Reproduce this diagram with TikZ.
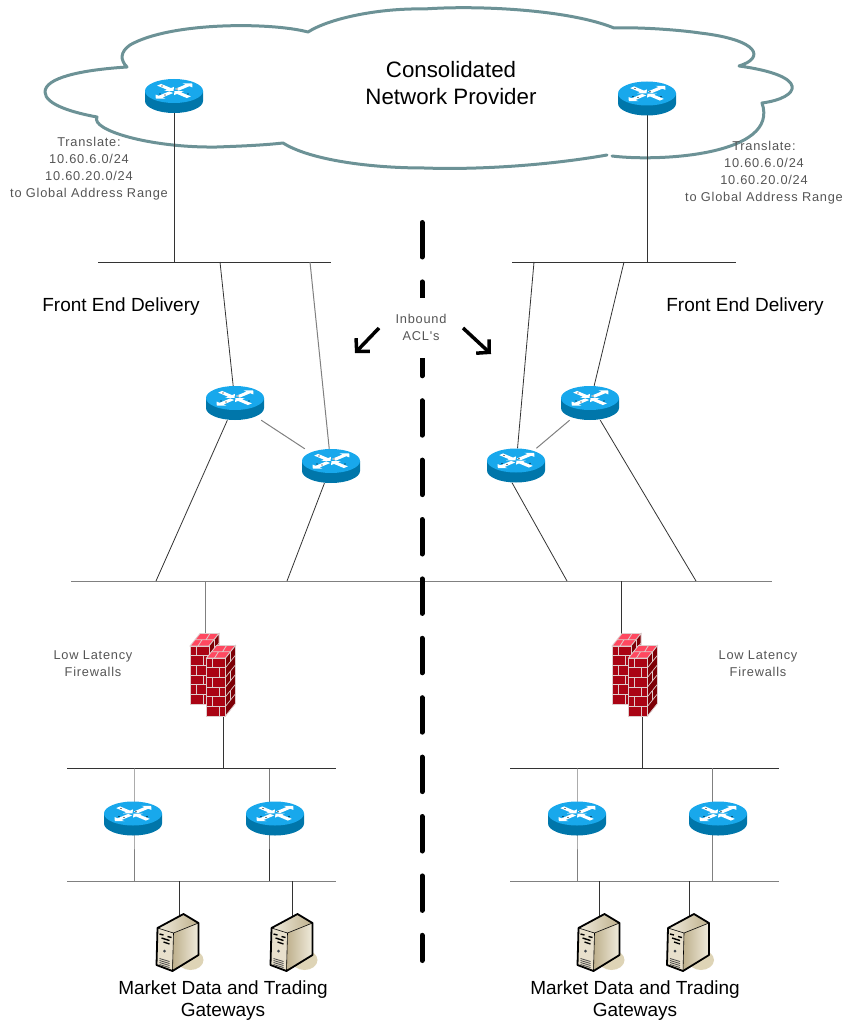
\documentclass[tikz,border=0pt]{standalone}
\usepackage{fontspec}
\setmainfont{Liberation Sans}
\newfontfamily\notefont[LetterSpace=6]{Liberation Sans}
\usetikzlibrary{arrows.meta,backgrounds}

% Colours
\definecolor{cloudline}{RGB}{108,146,150}
\definecolor{routertop}{RGB}{24,168,236}
\definecolor{routerside}{RGB}{0,118,170}
\definecolor{brickfront}{RGB}{170,4,20}
\definecolor{bricktop}{RGB}{255,72,96}
\definecolor{brickside}{RGB}{125,0,6}
\definecolor{mortar}{RGB}{222,205,205}
\definecolor{casefront}{RGB}{232,224,204}
\definecolor{casedark}{RGB}{190,176,140}
\definecolor{caselight}{RGB}{240,235,220}
\definecolor{caseshadow}{RGB}{222,212,182}
\definecolor{notegray}{RGB}{85,85,85}

\tikzset{
  wire/.style={black!80,line width=0.8pt},
  wirelight/.style={black!50,line width=1pt},
  router/.style={inner sep=0pt,minimum width=58pt,minimum height=34pt},
  firewall/.style={inner sep=0pt,minimum width=46pt,minimum height=82pt},
  server/.style={inner sep=0pt,minimum width=42pt,minimum height=56pt},
  note/.style={text=notegray,align=center,font=\notefont\fontsize{12.8}{17}\selectfont},
  heading/.style={align=center,font=\fontsize{19}{22.5}\selectfont},
  routericon/.pic={
    \fill[routerside] (-29,-5) -- (-29,5) arc[start angle=180,end angle=0,x radius=29,y radius=12] -- (29,-5) -- cycle;
    \fill[routertop] (0,-5) ellipse[x radius=29,y radius=12];
    % Four white arrows on the lid
    \foreach \a/\s/\e in {45/4/19,135/21/7,225/4/19,315/21/7}{
      \begin{scope}[shift={(0,-5)},yscale=0.42,rotate=\a]
        \fill[white] (\s,-2.8) -- (\e,-2.8) -- (\e,-7) -- ({\e+(\e-\s)*0.45},0) -- (\e,7) -- (\e,2.8) -- (\s,2.8) -- cycle;
      \end{scope}
    }
    \fill[black] (-12,-10) circle[radius=0.7] (-9,-1) circle[radius=0.7] (-14,-2) circle[radius=0.6] (3,-7) circle[radius=0.6] (14,-2) circle[radius=0.6];
  },
  bricktower/.pic={
    % Lid and side first, then the bricks of the front
    \fill[bricktop,draw=mortar,line width=0.8pt] (0,0) -- (10,-12.5) -- (29,-12.5) -- (19,0) -- cycle;
    \draw[mortar,line width=0.8pt] (5,-6.2) -- (24,-6.2) (12,-6.2) -- (8,0) (20,-12.5) -- (16,-6.2);
    \fill[brickside,draw=mortar,line width=0.8pt] (19,0) -- (29,-12.5) -- (29,45.5) -- (19,58) -- cycle;
    \foreach \i in {1,...,5}{
      \draw[mortar,line width=0.7pt] (19,{\i*9.67}) -- (29,{\i*9.67-12.5});
    }
    \foreach \i in {0,2,4}{
      \draw[mortar,line width=0.6pt] (24,{\i*9.67-6}) -- (24,{\i*9.67+3.5});
    }
    \fill[brickfront,draw=mortar,line width=0.8pt] (0,0) rectangle (19,58);
    \foreach \i in {1,...,5}{
      \draw[mortar,line width=0.9pt] (0,{\i*9.67}) -- (19,{\i*9.67});
    }
    \foreach \i in {0,2,4}{
      \draw[mortar,line width=0.9pt] (6,{\i*9.67}) -- (6,{(\i+1)*9.67});
      \draw[mortar,line width=0.9pt] (13,{(\i+1)*9.67}) -- (13,{(\i+2)*9.67});
    }
  },
  firewallicon/.pic={
    \pic at (-23,-29) {bricktower};
    \pic at (-6.5,-17) {bricktower};
  },
  servericon/.pic={
    \fill[caseshadow] (12,17) ellipse[x radius=13,y radius=10];
    \fill[casefront] (-21,-15) -- (-5,-10) -- (-6,28) -- (-22,22) -- cycle;
    \shade[left color=casedark,right color=caselight] (-5,-10) -- (20,-20) -- (20,12) -- (-6,28) -- cycle;
    \shade[left color=caselight,right color=casedark] (5,-29) -- (20,-20) -- (-5,-10) -- (-21,-15) -- cycle;
    \draw[black,line width=1.8pt,line join=round] (5,-29) -- (20,-20) -- (20,12) -- (-6,28) -- (-22,22) -- (-21,-15) -- cycle;
    \draw[black,line width=0.6pt] (-21,-15) -- (-5,-10) -- (-6,28) (-5,-10) -- (20,-20);
    % Panel marks on the front
    \draw[black,line width=1.4pt] (-19,-9) -- (-15,-8) (-11,-6.5) -- (-7,-5.5) (-17,-5) -- (-9,-2.5) (-15,-1) -- (-9,1);
    \fill[black!80!cyan] (-14,8) circle[radius=1.5];
    \foreach \i in {0,...,3}{
      \draw[black!70,line width=0.8pt] (-19,{15.5+\i*2}) -- (-9,{18.5+\i*2});
    }
  }
}

\begin{document}
\begin{tikzpicture}[x=1pt,y=-1pt]
\useasboundingbox (0,0) rectangle (848,1024);

% Routers
\foreach \name/\x/\y in {rtTL/174/96,rtTR/647/98.5,rtA/235/403,rtB/331/466,rtC/516/465.5,rtD/590/403,rtE/133/818.5,rtF/275/818.5,rtG/577/818.5,rtH/718/818.5}{
  \node[router] (\name) at (\x,\y) {};
  \pic at (\name) {routericon};
}

% Firewalls
\node[firewall] (fwL) at (213,675) {};
\pic at (fwL) {firewallicon};
\node[firewall] (fwR) at (635,675) {};
\pic at (fwR) {firewallicon};

% Servers
\foreach \name/\x in {srvA/178.5,srvB/292.5,srvC/599.5,srvD/689}{
  \node[server] (\name) at (\x,943) {};
  \pic at (\name) {servericon};
}

% Taps on the bus lines
\coordinate (tapTL) at (174,262);
\coordinate (tapA) at (220,262);
\coordinate (tapB) at (310,262);
\coordinate (tapC) at (534,262);
\coordinate (tapD) at (624,262);
\coordinate (tapTR) at (647,262);
\coordinate (tapA2) at (156,581);
\coordinate (tapB2) at (287,581);
\coordinate (tapC2) at (567,581);
\coordinate (tapD2) at (696,581);
\coordinate (tapFL) at (205,581);
\coordinate (tapFR) at (621,581);
\coordinate (tapFL2) at (223,768);
\coordinate (tapFR2) at (642,768);
\coordinate (tapE) at (134,768);
\coordinate (tapF) at (269,768);
\coordinate (tapG) at (577,768);
\coordinate (tapH) at (712,768);
\coordinate (tapE2) at (134,881);
\coordinate (tapF2) at (269,881);
\coordinate (tapG2) at (577,881);
\coordinate (tapH2) at (712,881);
\coordinate (tapSA) at (179,881);
\coordinate (tapSB) at (292,881);
\coordinate (tapSC) at (599,881);
\coordinate (tapSD) at (689,881);

\begin{scope}[on background layer]
  % Cloud
  \draw[cloudline,line width=3pt,line cap=round,line join=round]
    (612,156) .. controls (660,162) and (780,155) .. (762,103)
    .. controls (800,98) and (812,76) .. (739,66)
    .. controls (765,58) and (760,40) .. (700,33)
    .. controls (680,30) and (640,27) .. (614,28)
    .. controls (570,10) and (480,5) .. (424,9)
    .. controls (380,8) and (330,18) .. (308,32)
    .. controls (270,22) and (170,22) .. (130,45)
    .. controls (120,52) and (120,60) .. (127,67)
    .. controls (80,70) and (45,78) .. (45,92)
    .. controls (45,105) and (75,113) .. (97,117)
    .. controls (90,130) and (150,148) .. (217,147)
    .. controls (245,146) and (265,145) .. (283,143)
    .. controls (310,160) and (370,168) .. (424,168)
    .. controls (480,170) and (550,165) .. (607,155);

  % Bus lines
  \draw[wire] (98,262) -- (331,262);
  \draw[wire] (512,262) -- (736,262);
  \draw[wirelight] (71,581) -- (772,581);
  \draw[wire] (67,768) -- (336,768);
  \draw[wire] (510,768) -- (779,768);
  \draw[wirelight] (67,881) -- (336,881);
  \draw[wirelight] (510,881) -- (779,881);

  % Provider routers down to the front end
  \draw[wire] (rtTL) -- (tapTL);
  \draw[wire] (rtTR) -- (tapTR |- rtTR);
  \draw[wire] (tapTR |- rtTR) -- (tapTR);

  % Front end routers
  \draw[wire] (tapA) -- (rtA);
  \draw[wirelight] (tapB) -- (rtB);
  \draw[wire] (tapC) -- (rtC);
  \draw[wire] (tapD) -- (rtD);
  \draw[wirelight] (rtA) -- (rtB);
  \draw[wirelight] (rtC) -- (rtD);
  \draw[wire] (rtA) -- (tapA2);
  \draw[wire] (rtB) -- (tapB2);
  \draw[wire] ([xshift=-4pt]rtC.south) -- (tapC2);
  \draw[wire] (rtD) -- (tapD2);

  % Firewalls
  \draw[wirelight] (tapFL) -- (tapFL |- fwL);
  \draw[wire] (tapFL2 |- fwL) -- (tapFL2);
  \draw[wire] (tapFR) -- (tapFR |- fwR);
  \draw[wire] (tapFR2 |- fwR) -- (tapFR2);

  % Routers between the lower bus lines
  \draw[wirelight] (tapE) -- (tapE |- rtE) -- (tapE2);
  \draw[wire] (tapF) -- (tapF |- rtF) -- (tapF2);
  \draw[wirelight] (tapG) -- (tapG |- rtG) -- (tapG2);
  \draw[wirelight] (tapH) -- (tapH |- rtH) -- (tapH2);

  % Servers
  \draw[wire] (tapSA) -- (tapSA |- srvA);
  \draw[wire] (tapSB) -- (tapSB |- srvB);
  \draw[wire] (tapSC) -- (tapSC |- srvC);
  \draw[wire] (tapSD) -- (tapSD |- srvD);
\end{scope}

% Centre line
\coordinate (midTop) at (422,222.5);
\coordinate (midBot) at (422,960.5);
\draw[black,line width=5pt,line cap=round,dash pattern=on 34.5pt off 24.9pt] (midTop) -- (midBot);

% Inbound ACL note and its arrows
\node[note,fill=white,inner sep=0pt,minimum width=56pt,minimum height=60pt] (acl) at (421,327.5) {Inbound\\ACL's};
\coordinate (aclL) at (379,328);
\coordinate (aclLend) at (355,353);
\coordinate (aclR) at (463,328);
\coordinate (aclRend) at (491,354);
\draw[-{Straight Barb[length=9pt,width=19pt,line width=3.5pt]},line width=3.5pt] (aclL) -- (aclLend);
\draw[-{Straight Barb[length=9pt,width=19pt,line width=3.5pt]},line width=3.5pt] (aclR) -- (aclRend);

% Labels
\node[heading,font=\fontsize{22.3}{27}\selectfont] (provider) at (451,83.5) {Consolidated\\Network Provider};
\node[note] (transL) at (89,168.5) {Translate:\\10.60.6.0/24\\10.60.20.0/24\\to Global Address Range};
\node[note] (transR) at (764,173) {Translate:\\10.60.6.0/24\\10.60.20.0/24\\to Global Address Range};
\node[heading] (frontL) at (121,307) {Front End Delivery};
\node[heading] (frontR) at (745,307) {Front End Delivery};
\node[note] (lowL) at (93,664) {Low Latency\\Firewalls};
\node[note] (lowR) at (758,664) {Low Latency\\Firewalls};
\node[heading] (gateL) at (223,1000.5) {Market Data and Trading\\Gateways};
\node[heading] (gateR) at (635,1000.5) {Market Data and Trading\\Gateways};

\end{tikzpicture}
\end{document}
